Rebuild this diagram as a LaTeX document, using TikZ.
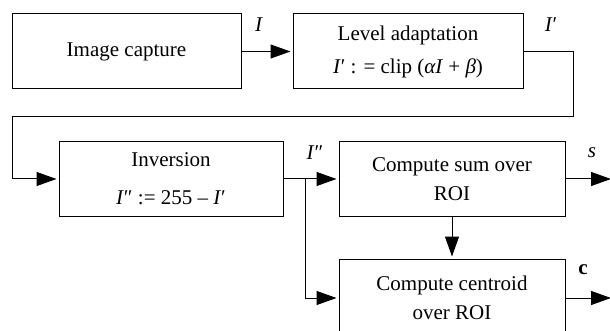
\documentclass[tikz,border=0pt]{standalone}
\usepackage{fontspec}
\setmainfont{Liberation Serif}
\usetikzlibrary{arrows.meta}
\begin{document}
\begin{tikzpicture}[x=1pt,y=-1pt,
  font=\fontsize{21}{29}\selectfont,
  blk/.style={draw,line width=1pt,inner sep=0pt,align=center},
  conn/.style={line width=1pt},
  arr/.style={line width=1pt,-{Triangle[length=20pt,width=14pt]},shorten >=2pt},
  lbl/.style={inner sep=0pt}]
\useasboundingbox (0,0) rectangle (610,331);
\clip (0,0) rectangle (610,331);
\node[blk,minimum width=229pt,minimum height=75pt] (cap) at (126.5,51.5) {Image capture};
\node[blk,minimum width=230pt,minimum height=75pt] (lev) at (408,51.5) {Level adaptation\\[4pt]\textit{I}′ : = clip (\textit{αI} + \textit{β})};
\node[blk,minimum width=224pt,minimum height=74pt] (inv) at (171,179) {Inversion\\[9pt]\textit{I}″ := 255 – \textit{I}′};
\node[blk,minimum width=226pt,minimum height=74pt] (sum) at (452,179) {Compute sum over\\ROI};
\node[blk,minimum width=226pt,minimum height=78pt] (cen) at (452,298) {Compute centroid\\over ROI};
\coordinate (j) at (305,179);
\coordinate (r2) at (573,117);
\coordinate (l1) at (12,117);
\coordinate (l2) at (12,179);
\coordinate (so) at (611,179);
\coordinate (co) at (611,298);
\draw[arr] (cap.east) -- (lev.west);
\draw[conn,line join=miter] (lev.east) -| (r2) -- (l1) -- (l2);
\draw[arr] (l2) -- (inv.west);
\draw[conn] (inv.east) -- (j);
\draw[arr] (j) -- (sum.west);
\draw[arr] (j) |- (cen.west);
\draw[arr] (sum.south) -- (cen.north);
\draw[arr,shorten >=0pt] (sum.east) -- (so);
\draw[arr,shorten >=0pt] (cen.east |- co) -- (co);
\node[lbl] (lI) at (259,25) {\textit{I}};
\node[lbl] (lI1) at (551,25) {\textit{I}′};
\node[lbl] (lI2) at (315,153) {\textit{I}″};
\node[lbl] (ls) at (592,153) {\textit{s}};
\node[lbl] (lc) at (583,270) {\textbf{c}};
\end{tikzpicture}
\end{document}
